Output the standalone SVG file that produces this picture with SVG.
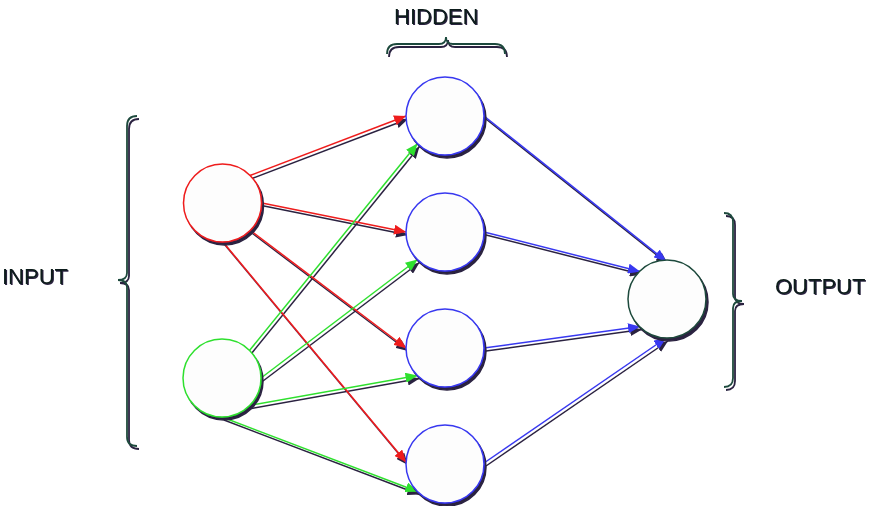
<svg xmlns="http://www.w3.org/2000/svg" width="880" height="506" viewBox="0 0 880 506">
<style>
.lbl{font-family:"Liberation Sans",Arial,sans-serif;font-size:22px;fill:#0f1f1b}
.node{fill:#fdfdfd;stroke-width:1.5}
.e{fill:none;stroke-width:1.5}
.r{stroke:#ee1c1c}
.g{stroke:#2fe02f}
.b{stroke:#3838f0}
.brace{fill:none;stroke:#1e4a3c;stroke-width:1.8}
</style>
<defs>
<filter id="sh" x="-20%" y="-20%" width="140%" height="140%">
<feFlood flood-color="#2a2140" result="c"/>
<feComposite in="c" in2="SourceAlpha" operator="in" result="s"/>
<feOffset in="s" dx="2" dy="2.5" result="o"/>
<feMerge><feMergeNode in="o"/><feMergeNode in="SourceGraphic"/></feMerge>
</filter>
<filter id="tsh" x="-10%" y="-20%" width="120%" height="140%">
<feFlood flood-color="#2a2140" result="c"/>
<feComposite in="c" in2="SourceAlpha" operator="in" result="s"/>
<feOffset in="s" dx="0.8" dy="0.8" result="o"/>
<feMerge><feMergeNode in="o"/><feMergeNode in="SourceGraphic"/></feMerge>
</filter>
<marker id="ar" viewBox="0 0 12 10" refX="12" refY="5" markerWidth="12" markerHeight="10" markerUnits="userSpaceOnUse" orient="auto"><path d="M0,0 L12,5 L0,10 z" fill="#ee1c1c"/></marker>
<marker id="ag" viewBox="0 0 12 10" refX="12" refY="5" markerWidth="12" markerHeight="10" markerUnits="userSpaceOnUse" orient="auto"><path d="M0,0 L12,5 L0,10 z" fill="#2fe02f"/></marker>
<marker id="ab" viewBox="0 0 12 10" refX="12" refY="5" markerWidth="12" markerHeight="10" markerUnits="userSpaceOnUse" orient="auto"><path d="M0,0 L12,5 L0,10 z" fill="#3838f0"/></marker>
</defs>
<rect width="880" height="506" fill="#ffffff"/>
<g id="connectors" filter="url(#sh)">
<line class="e r" x1="250" y1="175.5" x2="406" y2="116" marker-end="url(#ar)"/>
<line class="e r" x1="262" y1="203" x2="406" y2="232" marker-end="url(#ar)"/>
<line class="e r" x1="250.5" y1="230.5" x2="406" y2="348" marker-end="url(#ar)"/>
<line class="e r" x1="223" y1="242" x2="406" y2="462" marker-end="url(#ar)"/>
<line class="e g" x1="249.5" y1="350.5" x2="417.5" y2="143.5" marker-end="url(#ag)"/>
<line class="e g" x1="261" y1="378" x2="417.5" y2="259.5" marker-end="url(#ag)"/>
<line class="e g" x1="249.5" y1="405.5" x2="417.5" y2="375.5" marker-end="url(#ag)"/>
<line class="e g" x1="222" y1="417" x2="417.5" y2="491.5" marker-end="url(#ag)"/>
<line class="e b" x1="484" y1="116" x2="666" y2="261" marker-end="url(#ab)"/>
<line class="e b" x1="484" y1="232" x2="640" y2="271.5" marker-end="url(#ab)"/>
<line class="e b" x1="484" y1="348" x2="640" y2="326.5" marker-end="url(#ab)"/>
<line class="e b" x1="484" y1="463" x2="666" y2="338" marker-end="url(#ab)"/>
</g>
<g id="input1" filter="url(#sh)"><circle class="node" cx="222.5" cy="203" r="39" stroke="#ee1c1c"/></g>
<g id="input2" filter="url(#sh)"><circle class="node" cx="222" cy="378" r="39" stroke="#2fe02f"/></g>
<g id="hidden1" filter="url(#sh)"><circle class="node" cx="445" cy="116" r="39" stroke="#3838f0"/></g>
<g id="hidden2" filter="url(#sh)"><circle class="node" cx="445" cy="232" r="39" stroke="#3838f0"/></g>
<g id="hidden3" filter="url(#sh)"><circle class="node" cx="445" cy="348" r="39" stroke="#3838f0"/></g>
<g id="hidden4" filter="url(#sh)"><circle class="node" cx="445" cy="464" r="39" stroke="#3838f0"/></g>
<g id="output" filter="url(#sh)"><circle class="node" cx="667" cy="299" r="39" stroke="#1e4a3c"/></g>
<g id="input-brace">
<path class="brace" filter="url(#sh)" d="M137 116 Q127 116 127 126 L127 273 Q127 280 118 280 Q127 280 127 287 L127 437 Q127 446 137 446"/>
<text class="lbl" filter="url(#tsh)" x="2" y="284">INPUT</text>
</g>
<g id="hidden-brace">
<path class="brace" filter="url(#sh)" d="M387 54 Q387 44 397 44 L439 44 Q446 44 446 37 Q446 44 453 44 L495 44 Q505 44 505 54"/>
<text class="lbl" filter="url(#tsh)" x="394" y="24">HIDDEN</text>
</g>
<g id="output-brace">
<path class="brace" filter="url(#sh)" d="M724 213 Q733 213 733 222 L733 294 Q733 301 742 301 Q733 301 733 308 L733 378 Q733 387 724 387"/>
<text class="lbl" filter="url(#tsh)" x="775" y="294">OUTPUT</text>
</g>
</svg>
